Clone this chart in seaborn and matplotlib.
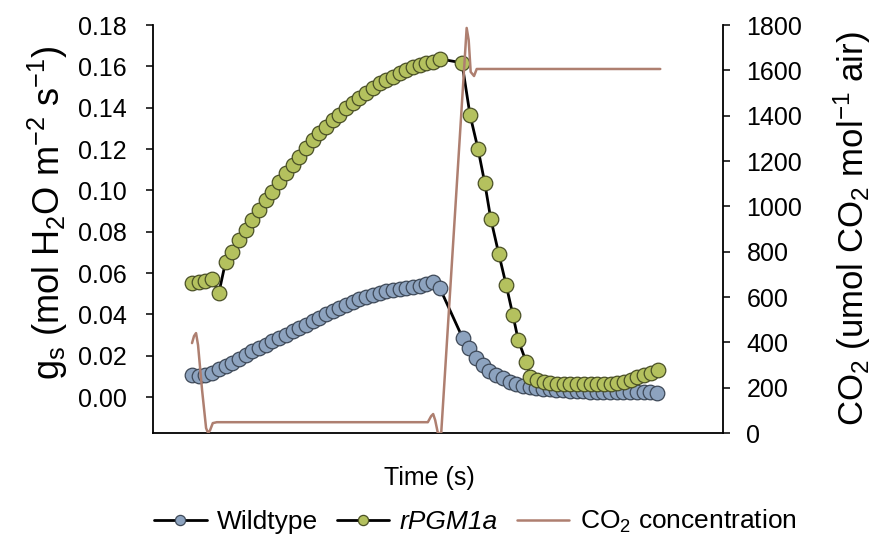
import numpy as np
import matplotlib
matplotlib.use("Agg")
import matplotlib.pyplot as plt
import matplotlib.ticker as mticker
import seaborn as sns

# time in sample units (x axis has no tick labels)
wt_time = [0, 1, 2, 3, 4, 5, 6, 7, 8, 9, 10, 11, 12, 13, 14, 15, 16, 17, 18, 19,
           20, 21, 22, 23, 24, 25, 26, 27, 28, 29, 30, 31, 32, 33, 34, 35, 36, 37,
           40.4, 41.4, 42.4, 43.4, 44.4, 45.4, 46.4, 47.4, 48.4, 49.4,
           50.4, 51.4, 52.4, 53.4, 54.4, 55.4, 56.4, 57.4, 58.4, 59.4,
           60.4, 61.4, 62.4, 63.4, 64.4, 65.4, 66.4, 67.4, 68.4, 69.4]
wt_gs = [0.0106, 0.0102, 0.0106, 0.0116, 0.0136, 0.0150, 0.0165, 0.0184, 0.0203, 0.0223,
         0.0237, 0.0252, 0.0271, 0.0286, 0.0300, 0.0319, 0.0334, 0.0348, 0.0368, 0.0382,
         0.0402, 0.0416, 0.0431, 0.0445, 0.0460, 0.0474, 0.0484, 0.0494, 0.0503, 0.0513,
         0.0518, 0.0523, 0.0528, 0.0532, 0.0537, 0.0547, 0.0556, 0.0527,
         0.0286, 0.0237, 0.0189, 0.0155, 0.0126, 0.0106, 0.0092, 0.0073, 0.0063, 0.0053,
         0.0048, 0.0044, 0.0040, 0.0037, 0.0034, 0.0032, 0.0030, 0.0029, 0.0028, 0.0027,
         0.0026, 0.0026, 0.0025, 0.0025, 0.0024, 0.0024, 0.0023, 0.0023, 0.0023, 0.0022]

pgm_time = [0, 1, 2, 3, 4, 5, 6, 7, 8, 9, 10, 11, 12, 13, 14, 15, 16, 17, 18, 19,
            20, 21, 22, 23, 24, 25, 26, 27, 28, 29, 30, 31, 32, 33, 34, 35, 36, 37,
            40.3, 41.5, 42.7, 43.7, 44.6, 45.8, 46.9, 47.9, 48.7, 49.9,
            50.5, 51.5, 52.5, 53.5, 54.5, 55.5, 56.5, 57.5, 58.5, 59.5,
            60.5, 61.5, 62.5, 63.5, 64.5, 65.5, 66.5, 67.5, 68.5, 69.5]
pgm_gs = [0.0552, 0.0557, 0.0562, 0.0571, 0.0503, 0.0653, 0.0702, 0.0760, 0.0808, 0.0857,
          0.0905, 0.0953, 0.0992, 0.1041, 0.1084, 0.1123, 0.1162, 0.1205, 0.1244, 0.1278,
          0.1307, 0.1341, 0.1365, 0.1399, 0.1423, 0.1447, 0.1471, 0.1496, 0.1520, 0.1534,
          0.1549, 0.1568, 0.1583, 0.1597, 0.1607, 0.1617, 0.1622, 0.1636,
          0.1617, 0.1365, 0.1200, 0.1036, 0.0862, 0.0692, 0.0542, 0.0397, 0.0276, 0.0169,
          0.0097, 0.0082, 0.0073, 0.0068, 0.0065, 0.0063, 0.0063, 0.0062, 0.0062, 0.0062,
          0.0063, 0.0063, 0.0065, 0.0068, 0.0075, 0.0085, 0.0095, 0.0105, 0.0118, 0.0130]

co2_time = [0.0, 0.3, 0.6, 0.9, 1.5, 2.1, 2.4, 2.7, 3.1, 3.7,
            35.2, 35.7, 36.0, 36.3, 36.7, 37.2, 41.0, 41.3, 41.6, 42.1, 42.5, 69.9]
co2_ppm = [397, 428, 441, 388, 190, 22, 0, 13, 44, 48,
           48, 75, 84, 57, 0, 0, 1787, 1734, 1593, 1575, 1606, 1606]

gs_ticks = [0.00, 0.02, 0.04, 0.06, 0.08, 0.10, 0.12, 0.14, 0.16, 0.18]
co2_ticks = [0, 200, 400, 600, 800, 1000, 1200, 1400, 1600, 1800]

wt_fill = "#8DA3BF"
wt_edge = "#3E4958"
pgm_fill = "#B4C15E"
pgm_edge = "#4A5026"
co2_color = "#AE7F70"

sns.set_style("ticks")
plt.rcParams["font.family"] = ["Liberation Sans", "DejaVu Sans"]
plt.rcParams["mathtext.fontset"] = "custom"
plt.rcParams["mathtext.rm"] = "Liberation Sans"
plt.rcParams["mathtext.it"] = "Liberation Sans:italic"
plt.rcParams["text.color"] = "black"
plt.rcParams["axes.labelcolor"] = "black"

fig, ax = plt.subplots(figsize=(8.72, 5.4), dpi=100)
fig.subplots_adjust(left=0.1755, right=0.829, top=0.9537, bottom=0.198)

sns.lineplot(x=wt_time, y=wt_gs, ax=ax, color="black", linewidth=2.0,
             marker="o", markersize=10.5, markerfacecolor=wt_fill,
             markeredgecolor=wt_edge, markeredgewidth=0.9,
             label="Wildtype", legend=False)
sns.lineplot(x=pgm_time, y=pgm_gs, ax=ax, color="black", linewidth=2.0,
             marker="o", markersize=10.5, markerfacecolor=pgm_fill,
             markeredgecolor=pgm_edge, markeredgewidth=0.9,
             label="rPGM1a", legend=False)

ax2 = ax.twinx()
sns.lineplot(x=co2_time, y=co2_ppm, ax=ax2, color=co2_color, linewidth=1.8,
             label=r"CO$_\mathregular{2}$ concentration", legend=False)

ax.set_xlim(-5.82, 79.25)
ax.set_ylim(-0.0174, 0.18)
ax2.set_ylim(0, 1800)
ax.set_xticks([])
ax.set_yticks(gs_ticks)
ax.yaxis.set_major_formatter(mticker.FormatStrFormatter("%.2f"))
ax2.set_yticks(co2_ticks)

ax.tick_params(axis="y", direction="out", length=5, width=1.1,
               labelsize=18, colors="black", pad=14)
ax2.tick_params(axis="y", direction="out", length=5, width=1.1,
                labelsize=18, colors="black", pad=12)
for a in (ax, ax2):
    for s in a.spines.values():
        s.set_color("black")
        s.set_linewidth(1.3)
ax.spines["top"].set_visible(False)
ax.spines["right"].set_visible(False)
ax2.spines["top"].set_visible(False)
ax2.spines["left"].set_visible(False)
ax2.spines["bottom"].set_visible(False)

ax.set_ylabel(r"g$_\mathregular{s}$ (mol H$_\mathregular{2}$O m$^\mathregular{-2}$ s$^\mathregular{-1}$)",
              fontsize=26)
ax.yaxis.set_label_coords(-0.145, 0.54)
ax2.set_ylabel(r"CO$_\mathregular{2}$ (umol CO$_\mathregular{2}$ mol$^\mathregular{-1}$ air)",
               fontsize=25)
ax2.yaxis.set_label_coords(1.19, 0.5)
ax.set_xlabel("Time (s)", fontsize=18)
ax.xaxis.set_label_coords(0.485, -0.08)

h1, l1 = ax.get_legend_handles_labels()
h2, l2 = ax2.get_legend_handles_labels()
leg = fig.legend(h1 + h2, l1 + l2, loc="center", bbox_to_anchor=(0.545, 0.034),
                 ncol=3, frameon=False, fontsize=19, handlelength=2.0,
                 columnspacing=0.7, handletextpad=0.4, markerscale=0.7)
leg.get_texts()[1].set_style("italic")

fig.savefig("out.png", dpi=100)
